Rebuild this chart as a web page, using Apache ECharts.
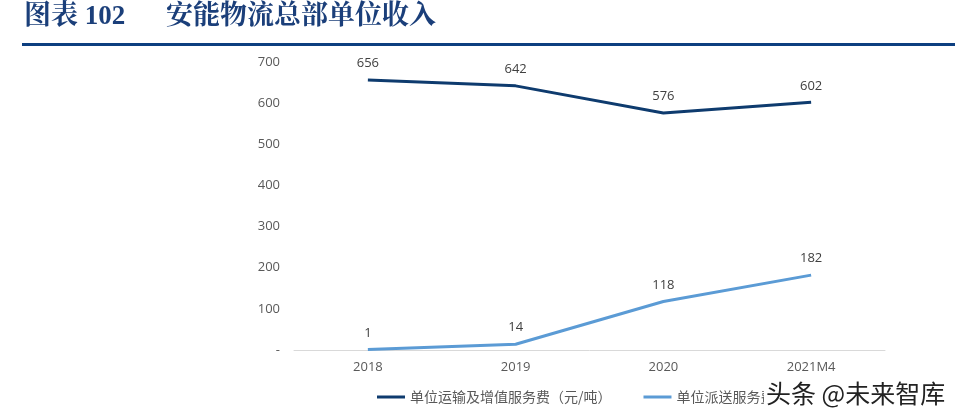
<!DOCTYPE html>
<html><head><meta charset="utf-8">
<script src="https://cdn.jsdelivr.net/npm/echarts@6/dist/echarts.min.js"></script>
<style>html,body{margin:0;padding:0;background:#fff}#c{width:955px;height:420px}</style>
</head><body><div id="c"></div>
<script>
const categories = ['2018', '2019', '2020', '2021M4'];
const transportFee = [656, 642, 576, 602];
const deliveryFee = [1, 14, 118, 182];
const seriesNames = ['单位运输及增值服务费（元/吨）', '单位派送服务费（元/吨）'];

const chart = echarts.init(document.getElementById('c'));
const lbl = {show: true, position: 'top', distance: 10, color: '#404040', fontSize: 13, fontFamily: '"Open Sans", sans-serif'};
const titleFont = 'bold 27px "Liberation Serif","Noto Serif CJK SC","Noto Sans CJK SC",serif';
chart.setOption({
  animation: false,
  backgroundColor: '#fff',
  grid: {left: 294, right: 70, top: 62, bottom: 70},
  graphic: [
    {type: 'text', left: 24, top: 4, style: {text: '图表 102', font: titleFont, fill: '#1b3f7a'}},
    {type: 'text', left: 166, top: 4, style: {text: '安能物流总部单位收入', font: titleFont, fill: '#1b3f7a'}},
    {type: 'rect', shape: {x: 22, y: 43, width: 933, height: 3}, style: {fill: '#0d3f80'}},
    {type: 'text', left: 764, top: 381, z: 100, style: {text: '头条 @未来智库', font: '25px "Noto Sans CJK SC",sans-serif', fill: '#222', backgroundColor: '#fff', padding: [0, 2]}}
  ],
  xAxis: {
    type: 'category', data: categories, boundaryGap: true,
    axisLine: {lineStyle: {color: '#d9d9d9', width: 1}},
    axisTick: {show: false},
    axisLabel: {color: '#595959', fontSize: 13, margin: 11, fontFamily: '"Open Sans", sans-serif'}
  },
  yAxis: {
    type: 'value', min: 0, max: 700, interval: 100,
    splitLine: {show: false}, axisLine: {show: false}, axisTick: {show: false},
    axisLabel: {color: '#595959', fontSize: 13, margin: 14, fontFamily: '"Open Sans", sans-serif',
      formatter: v => v === 0 ? '-' : String(v)}
  },
  legend: {
    bottom: 11, left: 372, itemGap: 32, itemWidth: 28, itemHeight: 3,
    icon: 'rect',
    textStyle: {color: '#595959', fontSize: 14, fontFamily: '"Noto Sans CJK SC", sans-serif'},
    data: seriesNames
  },
  series: [
    {name: seriesNames[0], type: 'line', data: transportFee, showSymbol: true, symbol: 'circle', symbolSize: 0,
      lineStyle: {color: '#0e3b6e', width: 3}, itemStyle: {color: '#0e3b6e'}, label: lbl},
    {name: seriesNames[1], type: 'line', data: deliveryFee, showSymbol: true, symbol: 'circle', symbolSize: 0,
      lineStyle: {color: '#5b9bd5', width: 3}, itemStyle: {color: '#5b9bd5'}, label: lbl}
  ]
});
</script></body></html>
